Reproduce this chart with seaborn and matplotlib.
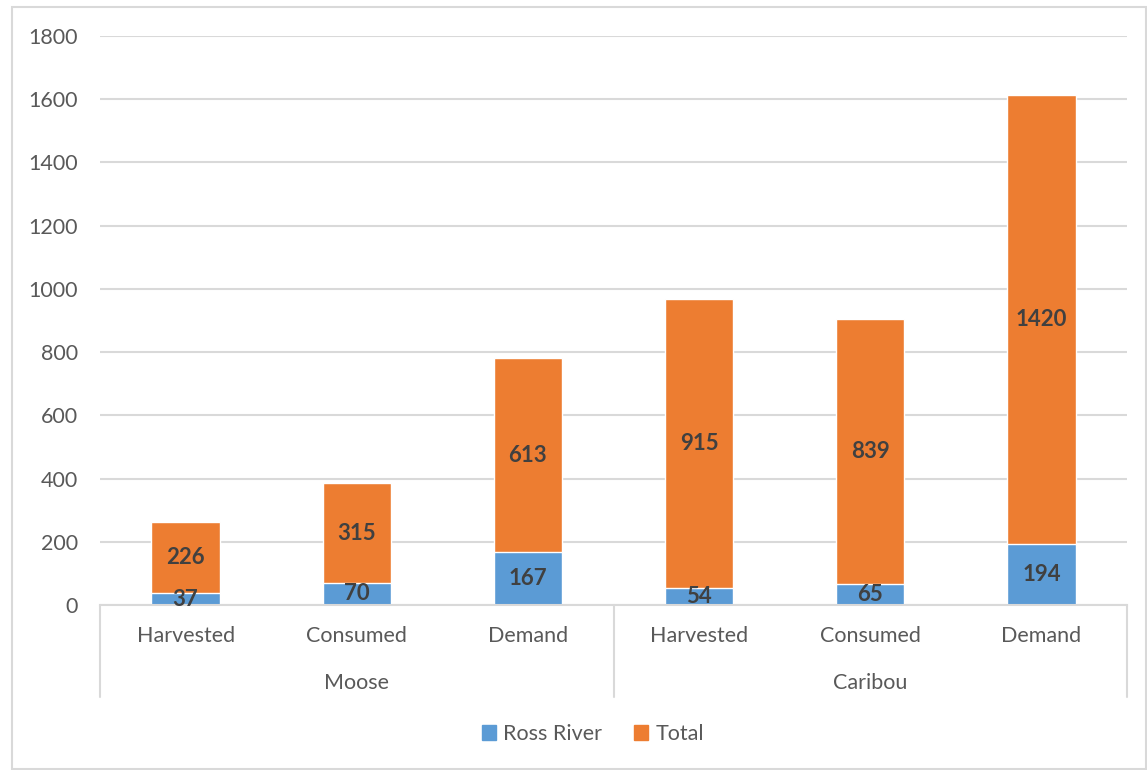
import matplotlib
matplotlib.use("Agg")
import matplotlib.pyplot as plt
import matplotlib.patches as mpatches
from matplotlib.lines import Line2D
import seaborn as sns
import pandas as pd

# Data
species = ["Moose", "Moose", "Moose", "Caribou", "Caribou", "Caribou"]
measures = ["Harvested", "Consumed", "Demand", "Harvested", "Consumed", "Demand"]
ross_river = [37, 70, 167, 54, 65, 194]
total = [226, 315, 613, 915, 839, 1420]
groups = ["Moose", "Caribou"]

BLUE = "#5B9BD5"
ORANGE = "#ED7D31"
GRID = "#D9D9D9"
TEXT = "#595959"
LABEL = "#404040"
FS = 15.5

sns.set_theme(style="white")
plt.rcParams["font.family"] = ["Lato", "DejaVu Sans"]

df = pd.DataFrame({
    "slot": [f"{s} {m}" for s, m in zip(species, measures)],
    "measure": measures,
    "ross": ross_river,
    "total": total,
})
df["stacked"] = df["ross"] + df["total"]
order = list(df["slot"])

fig = plt.figure(figsize=(11.47, 7.70), dpi=100)
ax = fig.add_axes([100 / 1147, 1 - 605 / 770, 1027 / 1147, 569 / 770])

# Stacked bars: full height in orange, Ross River portion overlaid in blue
sns.barplot(data=df, x="slot", y="stacked", order=order, color=ORANGE,
            width=0.4, saturation=1, ax=ax, zorder=3)
sns.barplot(data=df, x="slot", y="ross", order=order, color=BLUE,
            width=0.4, saturation=1, ax=ax, zorder=4)

ax.set_xlim(-0.5, 5.5)
ax.set_ylim(0, 1800)
ax.set_yticks(range(0, 1801, 200))
ax.yaxis.grid(True, color=GRID, linewidth=1.5, zorder=0)
ax.set_axisbelow(True)
for side in ["top", "right", "left"]:
    ax.spines[side].set_visible(False)
ax.spines["bottom"].set_color(GRID)
ax.spines["bottom"].set_linewidth(1.5)
ax.spines["bottom"].set_zorder(5)
ax.tick_params(axis="y", length=0, pad=16, labelsize=FS, labelcolor=TEXT)
ax.tick_params(axis="x", length=0, labelbottom=False)
ax.set_xlabel("")
ax.set_ylabel("")

# Value labels centred in each segment
for i, (r, t) in enumerate(zip(ross_river, total)):
    ax.text(i, r / 2, f"{r}", ha="center", va="center", fontsize=FS + 0.5,
            fontweight="bold", color=LABEL, zorder=6)
    ax.text(i, r + t / 2, f"{t}", ha="center", va="center", fontsize=FS + 0.5,
            fontweight="bold", color=LABEL, zorder=6)

# Two-level category axis
trans = ax.get_xaxis_transform()
for i, m in enumerate(measures):
    ax.text(i, -0.0545, m, transform=trans, ha="center", va="center",
            fontsize=FS, color=TEXT, clip_on=False)
for g_i, g in enumerate(groups):
    ax.text(g_i * 3 + 1, -0.137, g, transform=trans, ha="center", va="center",
            fontsize=FS, color=TEXT, clip_on=False)
for xv in [-0.5, 2.5, 5.5]:
    ax.add_line(Line2D([xv, xv], [0, -0.162], transform=trans, color=GRID,
                       linewidth=1.5, clip_on=False))

# Legend
handles = [mpatches.Patch(color=BLUE, label="Ross River"),
           mpatches.Patch(color=ORANGE, label="Total")]
fig.legend(handles=handles, loc="center", bbox_to_anchor=(0.517, 1 - 734 / 770),
           ncol=2, frameon=False, fontsize=FS, labelcolor=TEXT,
           handlelength=0.65, handleheight=0.65, handletextpad=0.35,
           columnspacing=1.5)

# Chart frame
fig.patches.append(mpatches.Rectangle((12 / 1147, 1 / 770), 1134 / 1147, 762 / 770,
                                      transform=fig.transFigure, fill=False,
                                      edgecolor=GRID, linewidth=1.5))

fig.savefig("out.png", dpi=100)
